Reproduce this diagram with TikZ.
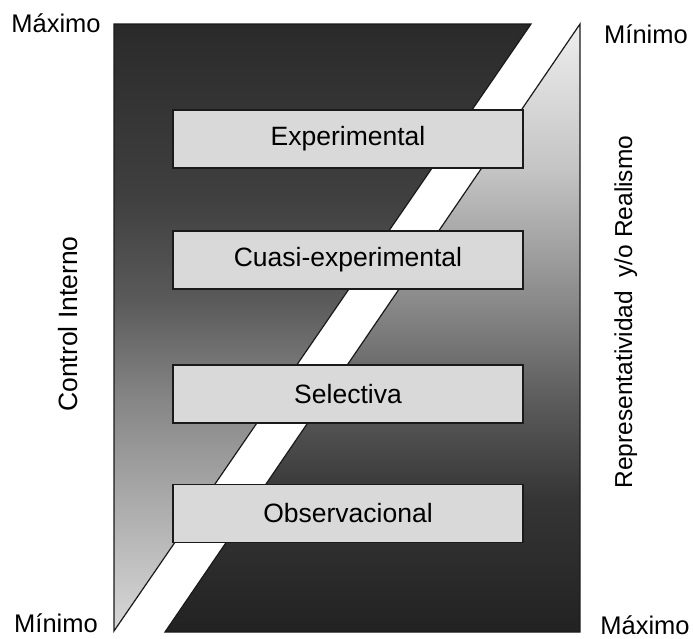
\documentclass[tikz,border=0pt]{standalone}
\usepackage{fontspec}
\setmainfont{Liberation Sans}

% grey ramps of the two wedges
\definecolor{ctlA}{HTML}{D8D8D8}
\definecolor{ctlB}{HTML}{AAAAAA}
\definecolor{ctlC}{HTML}{868686}
\definecolor{ctlD}{HTML}{5A5A5A}
\definecolor{ctlE}{HTML}{404040}
\definecolor{ctlF}{HTML}{2A2A2A}
\definecolor{repA}{HTML}{222222}
\definecolor{repB}{HTML}{353535}
\definecolor{repC}{HTML}{5C5C5C}
\definecolor{repD}{HTML}{8A8A8A}
\definecolor{repE}{HTML}{C4C4C4}
\definecolor{repF}{HTML}{EEEEEE}
\definecolor{boxfill}{HTML}{D9D9D9}
\definecolor{edge}{HTML}{1A1A1A}

\pgfdeclareverticalshading{controlshade}{100bp}{%
  color(0bp)=(ctlA); color(25bp)=(ctlA); color(35.8bp)=(ctlB);
  color(44bp)=(ctlC); color(52.3bp)=(ctlD); color(60.5bp)=(ctlE);
  color(75bp)=(ctlF); color(100bp)=(ctlF)}
\pgfdeclareverticalshading{realshade}{100bp}{%
  color(0bp)=(repA); color(25bp)=(repA); color(35.9bp)=(repB);
  color(44.1bp)=(repC); color(52.3bp)=(repD); color(63bp)=(repE);
  color(75bp)=(repF); color(100bp)=(repF)}

\begin{document}
\begin{tikzpicture}[x=1pt, y=-1pt,
  lbl/.style={font=\fontsize{25.5}{30}\selectfont, inner sep=0pt, text=black},
  design/.style={lbl, font=\fontsize{26.5}{31}\selectfont, draw=edge,
    fill=boxfill, line width=1.5pt, minimum width=350pt, minimum height=58pt},
  wedge/.style={draw=edge, line width=1.2pt, line join=miter}]
  \useasboundingbox (0,0) rectangle (693,638);

  % control wedge (left) and realism wedge (right)
  \path[wedge, shading=controlshade] (114,24) -- (531,24) -- (114,631) -- cycle;
  \path[wedge, shading=realshade] (580,24) -- (580,632) -- (165,632) -- cycle;

  % research designs
  \node[design] (exp) at (348,139) {Experimental};
  \node[design] (cua) at (348,260) {Cuasi-experimental};
  \node[design] (sel) at (348,394) {Selectiva};
  \node[design] (obs) at (348,513.5) {Observacional};

  % extremes of the two scales
  \node[lbl, anchor=base] (maxL) at (56,32) {Máximo};
  \node[lbl, anchor=base] (minR) at (646,43) {Mínimo};
  \node[lbl, anchor=base] (minL) at (56,632) {Mínimo};
  \node[lbl, anchor=base] (maxR) at (645,634) {Máximo};

  % axis titles
  \node[lbl, font=\fontsize{26.5}{31}\selectfont, anchor=base, rotate=90] (ctl) at (77,324) {Control Interno};
  \node[lbl, font=\fontsize{24.5}{29}\selectfont, anchor=base, rotate=90] (rep) at (632,312) {Representatividad\ \ y/o Realismo};
\end{tikzpicture}
\end{document}
